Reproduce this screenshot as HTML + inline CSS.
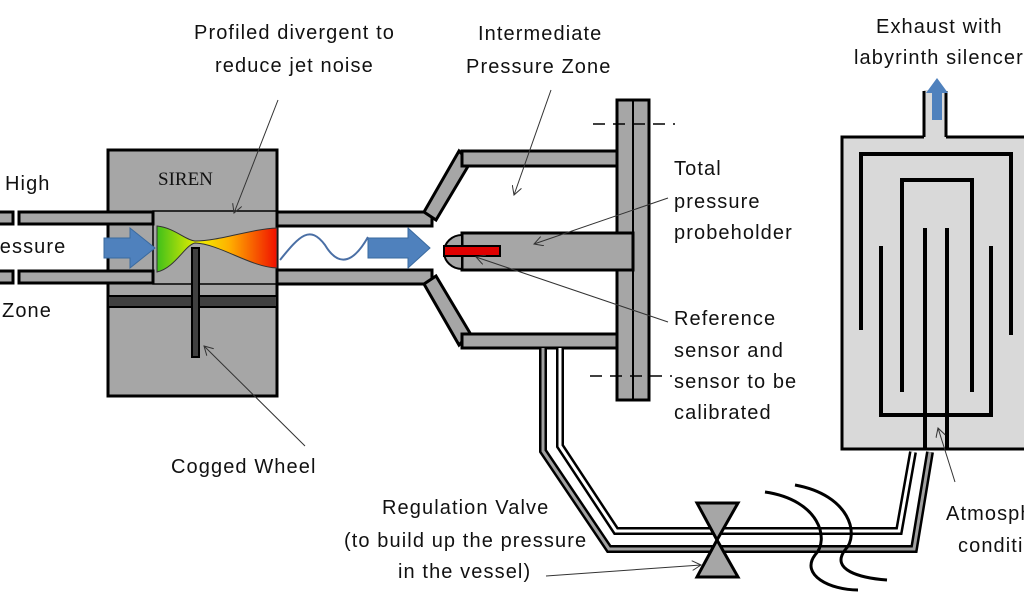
<!DOCTYPE html>
<html><head><meta charset="utf-8"><style>
html,body{margin:0;padding:0;background:#fff;width:1024px;height:600px;overflow:hidden}
text{font-family:"Liberation Sans",sans-serif;font-size:20px;fill:#111;letter-spacing:1.1px}
</style></head><body>
<svg width="1024" height="600" viewBox="0 0 1024 600" xmlns="http://www.w3.org/2000/svg">
<defs>
<linearGradient id="g" x1="0" x2="1" y1="0" y2="0">
<stop offset="0" stop-color="#3fc01a"/><stop offset="0.35" stop-color="#f0f000"/><stop offset="0.6" stop-color="#ffb000"/><stop offset="1" stop-color="#f01000"/></linearGradient>
<marker id="a" markerWidth="10" markerHeight="10" refX="9" refY="5" orient="auto" markerUnits="userSpaceOnUse"><path d="M0,0 L9,5 L0,10" fill="none" stroke="#333" stroke-width="1"/></marker>
</defs>
<rect x="108" y="150" width="169" height="246" fill="#a6a6a6" stroke="#000" stroke-width="3"/>
<text x="158" y="185" style="font-family:'Liberation Serif',serif;font-size:19px;letter-spacing:0">SIREN</text>
<rect x="153" y="211" width="124" height="73" fill="#a6a6a6" stroke="#000" stroke-width="1.5"/>
<rect x="108" y="296" width="169" height="11" fill="#404040" stroke="#000" stroke-width="2"/>
<path d="M157,226 C175,228 185,240 195,241 C220,241 250,229 277,228 L277,268 C250,267 220,244 195,243 C185,245 175,268 157,272 Z" fill="url(#g)" stroke="#333" stroke-width="1"/>
<rect x="192" y="248" width="7" height="109" fill="#404040" stroke="#000" stroke-width="2"/>
<rect x="-5" y="212" width="18" height="12" fill="#a6a6a6" stroke="#000" stroke-width="3"/>
<rect x="19" y="212" width="134" height="12" fill="#a6a6a6" stroke="#000" stroke-width="3"/>
<rect x="-5" y="271" width="18" height="12" fill="#a6a6a6" stroke="#000" stroke-width="3"/>
<rect x="19" y="271" width="134" height="12" fill="#a6a6a6" stroke="#000" stroke-width="3"/>
<rect x="277" y="212" width="155" height="14" fill="#a6a6a6" stroke="#000" stroke-width="3"/>
<rect x="277" y="270" width="155" height="14" fill="#a6a6a6" stroke="#000" stroke-width="3"/>
<path d="M104,238 L130,238 L130,228 L155,248 L130,268 L130,258 L104,258 Z" fill="#4f81bd" stroke="#3a6a9f"/>
<path d="M368,238 L408,238 L408,228 L430,248 L408,268 L408,258 L368,258 Z" fill="#4f81bd" stroke="#3a6a9f"/>
<path d="M280,260 C300,235 310,225 325,245 C340,270 355,260 368,237" fill="none" stroke="#4a6fa5" stroke-width="2"/>
<polygon points="424,212 459,151 470,163 436,220" fill="#a6a6a6" stroke="#000" stroke-width="3"/>
<polygon points="424,284 459,345 470,333 436,276" fill="#a6a6a6" stroke="#000" stroke-width="3"/>
<rect x="462" y="151" width="158" height="15" fill="#a6a6a6" stroke="#000" stroke-width="3"/>
<rect x="462" y="334" width="158" height="14" fill="#a6a6a6" stroke="#000" stroke-width="3"/>
<rect x="617" y="100" width="32" height="300" fill="#a6a6a6" stroke="#000" stroke-width="3"/>
<line x1="633" y1="100" x2="633" y2="400" stroke="#000" stroke-width="2"/>
<rect x="462" y="233" width="171" height="37" fill="#a6a6a6" stroke="#000" stroke-width="3"/>
<path d="M462,235 A18,17 0 0 0 462,269 Z" fill="#a6a6a6" stroke="#000" stroke-width="2"/>
<rect x="444" y="246" width="56" height="10" fill="#e00000" stroke="#000" stroke-width="2"/>
<line x1="593" y1="124" x2="675" y2="124" stroke="#000" stroke-width="1.5" stroke-dasharray="12,8"/>
<line x1="590" y1="376" x2="672" y2="376" stroke="#000" stroke-width="1.5" stroke-dasharray="12,8"/>
<g fill="none" stroke="#000">
<path d="M543,348 L543,451 L609,549 L914,549 L930,452" stroke-width="8"/>
<path d="M543,348 L543,451 L609,549 L914,549 L930,452" stroke="#a0a0a0" stroke-width="3"/>
<path d="M560,348 L560,446 L616,531 L899,531 L913,452" stroke-width="8"/>
<path d="M560,348 L560,446 L616,531 L899,531 L913,452" stroke="#fff" stroke-width="3"/>
</g>
<polygon points="697,503 738,503 717,540" fill="#a6a6a6" stroke="#000" stroke-width="3"/>
<polygon points="697,577 738,577 717,540" fill="#a6a6a6" stroke="#000" stroke-width="3"/>
<path d="M765,492 C820,500 830,540 815,555 C800,575 830,590 858,590" fill="none" stroke="#000" stroke-width="3"/>
<path d="M795,485 C850,495 860,535 845,550 C830,570 860,578 887,580" fill="none" stroke="#000" stroke-width="3"/>
<rect x="842" y="137" width="190" height="312" fill="#d9d9d9" stroke="#000" stroke-width="3"/>
<rect x="924" y="90" width="22" height="49" fill="#d9d9d9"/>
<line x1="924" y1="91" x2="924" y2="137" stroke="#000" stroke-width="3"/>
<line x1="946" y1="91" x2="946" y2="137" stroke="#000" stroke-width="3"/>
<path d="M932,120 L932,93 L926,93 L937,78 L948,93 L942,93 L942,120 Z" fill="#4f81bd"/>
<g fill="none" stroke="#000" stroke-width="4">
<path d="M861,330 L861,154 L1011,154 L1011,335"/>
<path d="M902,392 L902,180 L972,180 L972,392"/>
<path d="M881,246 L881,415 L991,415 L991,246"/>
<path d="M925,228 L925,450"/>
<path d="M947,228 L947,450"/>
</g>
<g stroke="#333" stroke-width="1" fill="none" marker-end="url(#a)">
<line x1="278" y1="100" x2="234" y2="213"/>
<line x1="551" y1="90" x2="514" y2="195"/>
<line x1="668" y1="198" x2="534" y2="244"/>
<line x1="668" y1="322" x2="476" y2="257"/>
<line x1="305" y1="446" x2="204" y2="346"/>
<line x1="955" y1="482" x2="938" y2="428"/>
<line x1="546" y1="576" x2="701" y2="565"/>
</g>
<text x="5" y="190">High</text>
<text x="-8" y="253">ressure</text>
<text x="2" y="317">Zone</text>
<text x="194" y="39">Profiled divergent to</text>
<text x="215" y="72">reduce jet noise</text>
<text x="478" y="40">Intermediate</text>
<text x="466" y="73">Pressure Zone</text>
<text x="674" y="175">Total</text>
<text x="674" y="208">pressure</text>
<text x="674" y="239">probeholder</text>
<text x="674" y="325">Reference</text>
<text x="674" y="357">sensor and</text>
<text x="674" y="388">sensor to be</text>
<text x="674" y="419">calibrated</text>
<text x="171" y="473">Cogged Wheel</text>
<text x="382" y="514">Regulation Valve</text>
<text x="344" y="547">(to build up the pressure</text>
<text x="398" y="578">in the vessel)</text>
<text x="876" y="33">Exhaust with</text>
<text x="854" y="64">labyrinth silencer</text>
<text x="946" y="520">Atmosph</text>
<text x="958" y="552">conditi</text>
</svg>
</body></html>
